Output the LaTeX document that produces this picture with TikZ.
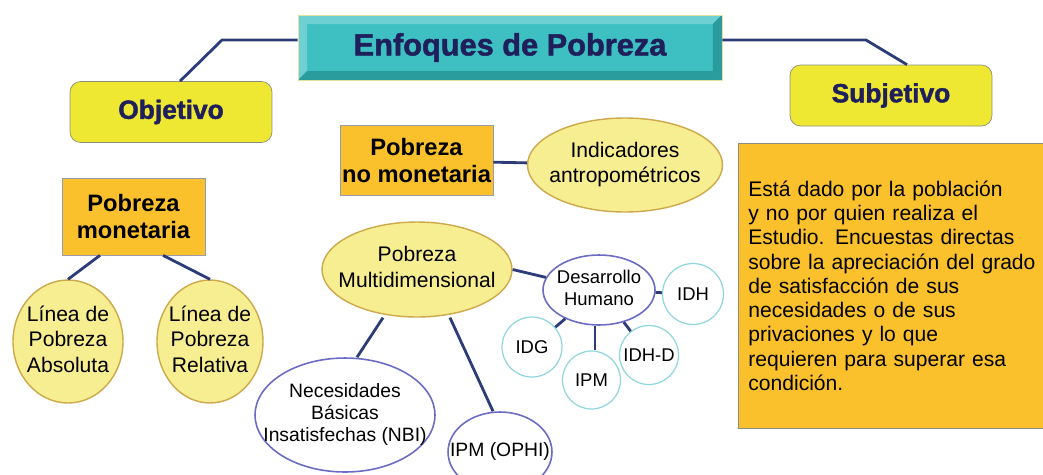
\documentclass[tikz,border=0pt]{standalone}
\usepackage{fontspec}
\setmainfont{Liberation Sans}
\newfontfamily\heavyfont{Liberation Sans}[UprightFont=* Bold, FakeBold=1.6]
\usetikzlibrary{shapes.geometric}
\definecolor{linenavy}{HTML}{2C3C78}
\definecolor{textnavy}{HTML}{1F1F5C}
\definecolor{tealface}{HTML}{3EBFC2}
\definecolor{teallight}{HTML}{6ED0D2}
\definecolor{tealdark}{HTML}{2A9C9E}
\definecolor{titleedge}{HTML}{E2E2A0}
\definecolor{headyellow}{HTML}{EFE833}
\definecolor{headedge}{HTML}{8E8E7E}
\definecolor{gold}{HTML}{FBC12C}
\definecolor{goldedge}{HTML}{9C9AAE}
\definecolor{paleyellow}{HTML}{F6EE90}
\definecolor{paleedge}{HTML}{CDA94B}
\definecolor{ellblue}{HTML}{6B6BC4}
\definecolor{ringteal}{HTML}{90D7DD}
\newcommand{\nowide}[1]{\makebox[0pt]{\begin{tabular}{@{}c@{}}#1\end{tabular}}}
\tikzset{conn/.style = {draw=linenavy, line width=1.6pt},
         titlebox/.style = {rectangle, draw=titleedge, fill=tealface, minimum width=8.48cm, minimum height=1.3cm,
                            text=textnavy, font=\heavyfont\fontsize{17.5}{20}\selectfont,
                            path picture={
                              \fill[teallight] (path picture bounding box.north west) -- (path picture bounding box.north east)
                                 -- ([shift={(-0.18cm,-0.18cm)}]path picture bounding box.north east)
                                 -- ([shift={(0.18cm,-0.18cm)}]path picture bounding box.north west) -- cycle;
                              \fill[teallight] (path picture bounding box.north west) -- (path picture bounding box.south west)
                                 -- ([shift={(0.18cm,0.18cm)}]path picture bounding box.south west)
                                 -- ([shift={(0.18cm,-0.18cm)}]path picture bounding box.north west) -- cycle;
                              \fill[tealdark] (path picture bounding box.south west) -- (path picture bounding box.south east)
                                 -- ([shift={(-0.18cm,0.18cm)}]path picture bounding box.south east)
                                 -- ([shift={(0.18cm,0.18cm)}]path picture bounding box.south west) -- cycle;
                              \fill[tealdark] (path picture bounding box.north east) -- (path picture bounding box.south east)
                                 -- ([shift={(-0.18cm,0.18cm)}]path picture bounding box.south east)
                                 -- ([shift={(-0.18cm,-0.18cm)}]path picture bounding box.north east) -- cycle;}},
         headbox/.style = {rectangle, draw=headedge, fill=headyellow, rounded corners=6pt, minimum width=4.04cm,
                           minimum height=1.22cm, text=textnavy, font=\heavyfont\fontsize{15}{18}\selectfont},
         goldbox/.style = {rectangle, draw=goldedge, fill=gold, align=center, inner sep=1pt,
                           font=\bfseries\fontsize{13.5}{15.5}\selectfont},
         paleell/.style = {ellipse, draw=paleedge, fill=paleyellow, line width=0.8pt, inner sep=0pt,
                           font=\fontsize{12}{14.5}\selectfont},
         blueell/.style = {ellipse, draw=ellblue, fill=white, line width=0.9pt, inner sep=0pt,
                           font=\fontsize{11}{12.8}\selectfont},
         ring/.style = {circle, draw=ringteal, fill=white, line width=0.7pt, inner sep=0pt,
                        font=\fontsize{10.5}{12}\selectfont}}
\begin{document}
\begin{tikzpicture}[x=0.02cm, y=-0.02cm]
        \useasboundingbox (0,0) rectangle (1043,474);
        \clip (0,0) rectangle (1043,474);

        % top level
        \node[titlebox] (title) at (510,47.5) {Enfoques de Pobreza};
        \node[headbox] (obj) at (171,112) {Objetivo};
        \node[headbox] (subj) at (891,95.5) {Subjetivo};

        \coordinate (lbend) at (222,40);
        \coordinate (rbend) at (866,40);
        \draw[conn] (title.west |- lbend) -- (lbend) -- (obj.north -| 180,0);
        \draw[conn] (title.east |- rbend) -- (rbend) -- (subj.north -| 907,0);

        % objetivo branch
        \node[goldbox, minimum width=2.86cm, minimum height=1.54cm] (mon) at (133.5,216.5) {Pobreza\\monetaria};
        \node[paleell, minimum width=2.2cm, minimum height=2.46cm] (abs) at (68,341.5) {\nowide{L\'inea de\\Pobreza\\Absoluta}};
        \node[paleell, minimum width=2.12cm, minimum height=2.46cm] (rel) at (210,341.5) {\nowide{L\'inea de\\Pobreza\\Relativa}};
        \draw[conn] (mon.south -| 100,0) -- (abs.north);
        \draw[conn] (mon.south -| 163,0) -- (rel.north);

        \node[goldbox, minimum width=3.06cm, minimum height=1.4cm] (nomon) at (416.5,160.5) {Pobreza\\no monetaria};
        \node[paleell, minimum width=3.9cm, minimum height=1.88cm] (ind) at (625,165) {\nowide{Indicadores\\antropom\'etricos}};
        \draw[conn] (nomon) -- (ind);

        \node[paleell, minimum width=3.8cm, minimum height=1.9cm] (pm) at (417,269.5) {\nowide{Pobreza\\Multidimensional}};
        \node[blueell, minimum width=3.6cm, minimum height=2.28cm] (nbi) at (345,415) {\nowide{Necesidades\\B\'asicas\\Insatisfechas (NBI)}};
        \node[blueell, minimum width=2.08cm, minimum height=1.6cm] (ophi) at (500,452) {\nowide{IPM (OPHI)}};
        \node[blueell, minimum width=2.24cm, minimum height=1.4cm, font=\fontsize{10.5}{12.5}\selectfont] (dh) at (599,290) {\nowide{Desarrollo\\Humano}};
        \draw[conn] (pm.south -| 383,0) -- (nbi.north -| 357,0);
        \draw[conn] (pm.south -| 450,0) -- (ophi.north -| 493,0);
        \draw[conn] (pm.east) -- (dh);

        \node[ring, minimum size=1.22cm] (idh) at (693,294) {IDH};
        \node[ring, minimum size=1.2cm] (idg) at (532,347) {IDG};
        \node[ring, minimum size=1.16cm] (ipm) at (591.5,380) {IPM};
        \node[ring, minimum size=1.18cm] (idhd) at (649,355) {IDH-D};
        \draw[conn] (dh) -- (idh);
        \draw[conn] (dh) -- (idg);
        \draw[conn] (dh.south -| 595,0) -- (ipm.north -| 595,0);
        \draw[conn] (dh) -- (idhd);

        % subjetivo branch
        \node[rectangle, draw=headedge, fill=gold, anchor=north west, minimum height=5.7cm, text width=6.4cm,
              inner xsep=0.2cm, align=left, font=\fontsize{12}{13.8}\selectfont] (desc) at (738,143)
              {Est\'a dado por la poblaci\'on\\y no por quien realiza el\\Estudio. Encuestas directas\\sobre la apreciaci\'on del grado\\de satisfacci\'on de sus\\necesidades o de sus\\privaciones y lo que\\requieren para superar esa\\condici\'on.};
\end{tikzpicture}
\end{document}
